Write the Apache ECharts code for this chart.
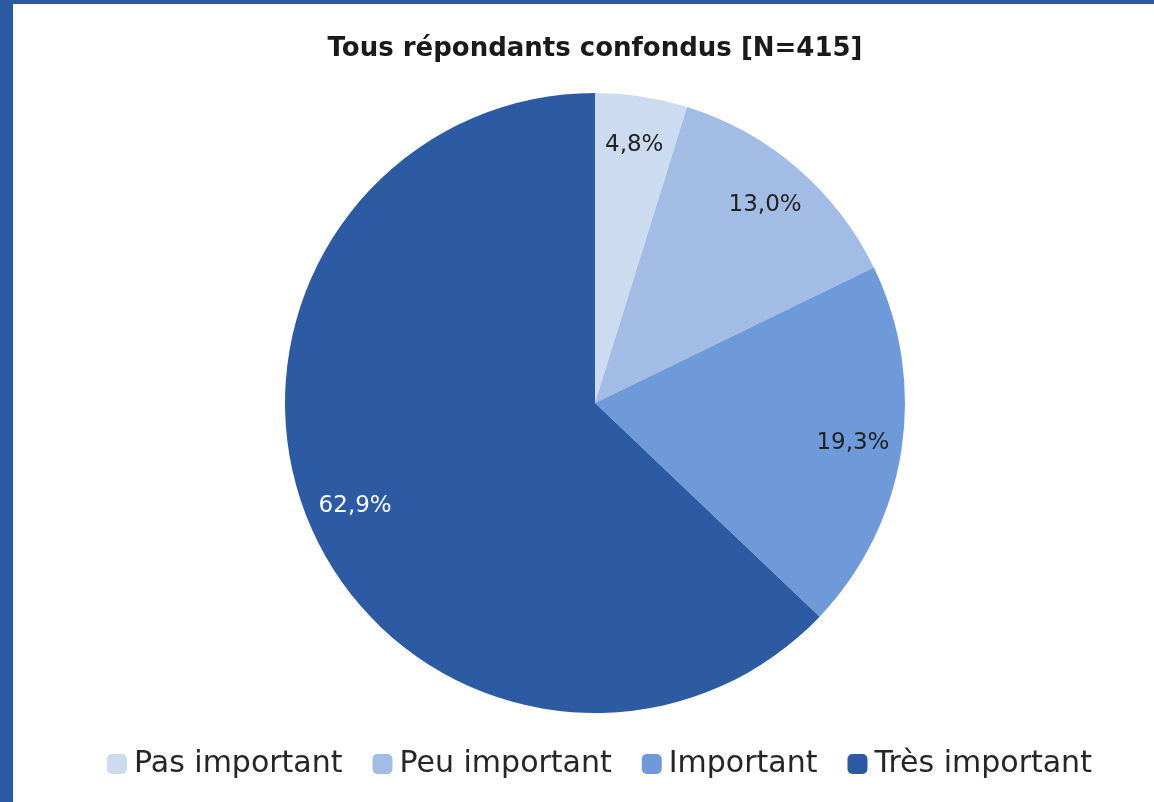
<!DOCTYPE html>
<html>
<head>
<meta charset="utf-8">
<script src="https://cdn.jsdelivr.net/npm/echarts@6/dist/echarts.min.js"></script>
<style>
html,body{margin:0;padding:0;background:#fff;}
#chart{position:absolute;left:0;top:0;width:1154px;height:802px;}
.strip{position:absolute;background:#2c5ba4;}
</style>
</head>
<body>
<div id="chart"></div>
<div class="strip" style="left:0;top:0;width:13px;height:802px;"></div>
<div class="strip" style="left:0;top:0;width:1154px;height:4px;"></div>
<script>
const titleText = "Tous répondants confondus [N=415]";
const categories = ["Pas important", "Peu important", "Important", "Très important"];
const values = [4.8, 13.0, 19.3, 62.9];
const colors = ["#cddbf1", "#a2bce5", "#6f9ad9", "#2c5ba4"];
const labelColors = ["#222", "#222", "#222", "#fff"];

const fontFam = "'DejaVu Sans', sans-serif";
const data = categories.map((c, i) => ({name: c, value: values[i], itemStyle: {color: colors[i]}}));
const labelData = categories.map((c, i) => ({name: c, value: values[i], itemStyle: {color: 'transparent'},
  label: {color: labelColors[i]}}));

const chart = echarts.init(document.getElementById('chart'));
chart.setOption({
  backgroundColor: 'transparent',
  animation: false,
  title: {
    text: titleText, left: 590, textAlign: 'center', top: 31,
    textStyle: {fontFamily: fontFam, fontWeight: 'bold', fontSize: 26, color: '#1a1a1a'}
  },
  legend: {
    data: categories, bottom: 18, left: 102,
    icon: 'roundRect', itemWidth: 20, itemHeight: 20, itemGap: 30,
    textStyle: {fontFamily: fontFam, fontSize: 30, color: '#262626', padding: [0, 0, 0, 2]}
  },
  series: [
    {
      type: 'pie', center: [595, 403], radius: [0, 310], startAngle: 90, clockwise: true,
      silent: true, label: {show: false}, labelLine: {show: false}, data: data
    },
    {
      type: 'pie', center: [595, 403], radius: [206, 310], startAngle: 90, clockwise: true,
      silent: true, legendHoverLink: false,
      label: {show: true, position: 'inside', fontFamily: fontFam, fontSize: 23,
        formatter: p => p.value.toFixed(1).replace('.', ',') + '%'},
      labelLine: {show: false}, data: labelData
    }
  ]
});
</script>
</body>
</html>
